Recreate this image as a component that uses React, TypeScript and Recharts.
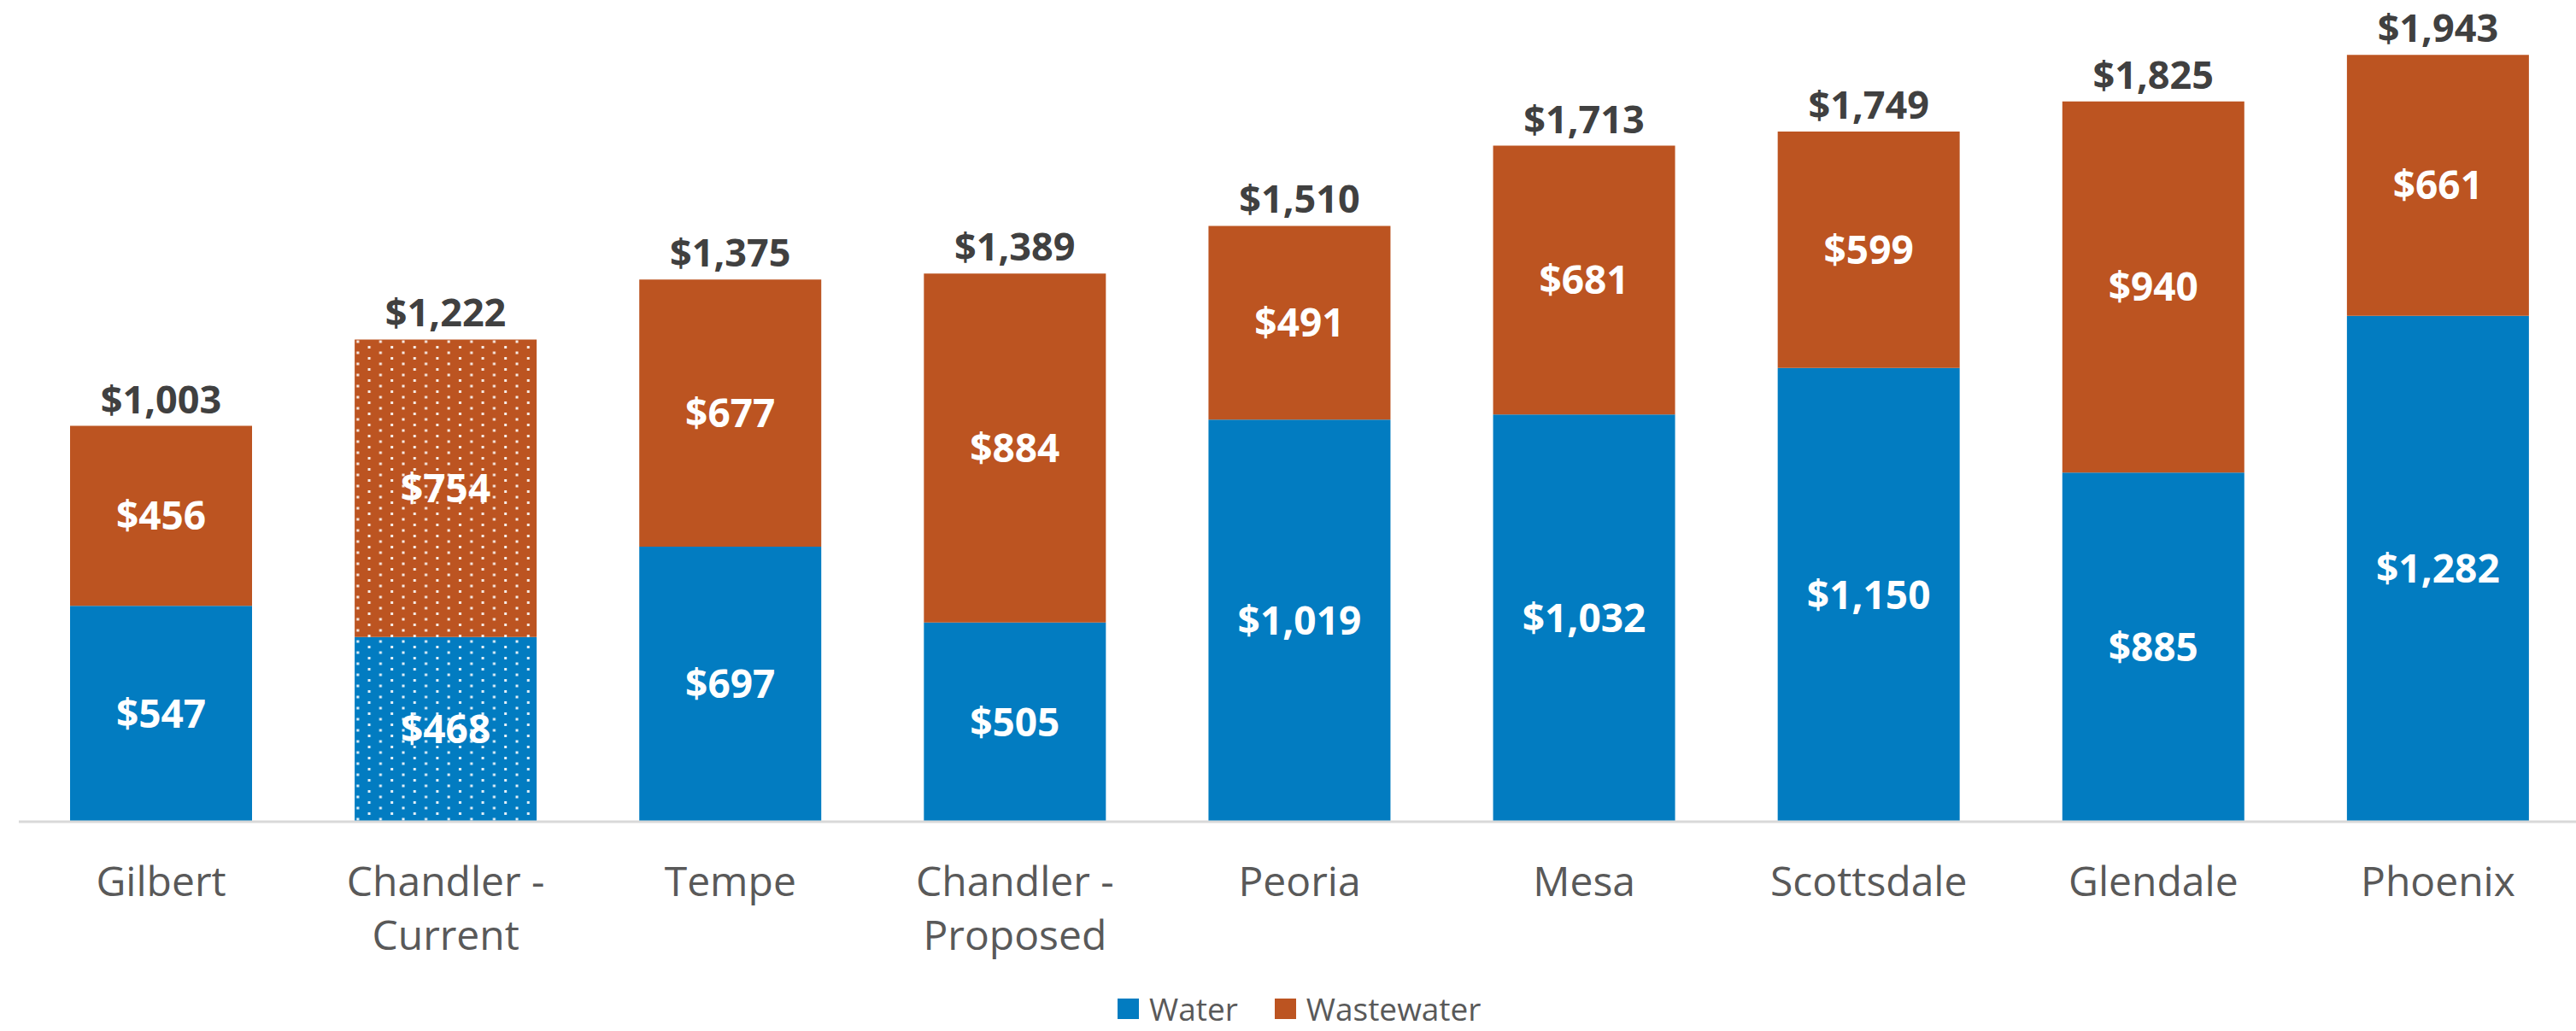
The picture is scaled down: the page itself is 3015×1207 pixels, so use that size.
import { BarChart, Bar, XAxis, YAxis, Cell, LabelList, Legend } from 'recharts'

const cities = ['Gilbert', 'Chandler - Current', 'Tempe', 'Chandler - Proposed', 'Peoria', 'Mesa', 'Scottsdale', 'Glendale', 'Phoenix']
const water = [547, 468, 697, 505, 1019, 1032, 1150, 885, 1282]
const wastewater = [456, 754, 677, 884, 491, 681, 599, 940, 661]
const totals = [1003, 1222, 1375, 1389, 1510, 1713, 1749, 1825, 1943]
// the current Chandler rates get the dotted fill
const dotted = ['Chandler - Current']
const seriesOrder = ['Water', 'Wastewater']

const BLUE = '#027CC1'
const ORANGE = '#BC5421'
const FONT = '"Open Sans", "Noto Sans", sans-serif'

const data = cities.map((city, i) => ({ city, water: water[i], wastewater: wastewater[i], total: totals[i] }))

const money = (v: number) => '$' + Number(v).toLocaleString('en-US')

function splitLabel(s: string) {
  const k = s.indexOf(' - ')
  return k < 0 ? [s] : [s.slice(0, k) + ' -', s.slice(k + 3)]
}

function CityTick({ x, y, payload }: any) {
  return (
    <g>
      {splitLabel(payload.value).map((line, i) => (
        <text key={i} x={x} y={y + 85 + i * 63} textAnchor="middle" fill="#595959" fontSize={48} fontFamily={FONT}>
          {line}
        </text>
      ))}
    </g>
  )
}

function TotalLabel(props: any) {
  const vb = props.viewBox ?? props
  return (
    <text x={vb.x + vb.width / 2} y={vb.y - 15} textAnchor="middle" fill="#404040" fontSize={45} fontWeight={700} fontFamily={FONT}>
      {money(props.value)}
    </text>
  )
}

function LegendBox({ payload }: any) {
  const items = [...(payload ?? [])].sort((a: any, b: any) => seriesOrder.indexOf(a.value) - seriesOrder.indexOf(b.value))
  return (
    <div style={{ display: 'flex', alignItems: 'center', height: 50, lineHeight: '50px', fontFamily: FONT, fontSize: 37, color: '#595959', whiteSpace: 'nowrap' }}>
      {items.map((p: any, i: number) => (
        <div key={i} style={{ display: 'flex', alignItems: 'center', marginRight: 43 }}>
          <div style={{ width: 25, height: 24, background: p.color, marginRight: 12 }} />
          <span>{p.value}</span>
        </div>
      ))}
    </div>
  )
}

export default function App() {
  return (
    <div style={{ position: 'absolute', left: 0, top: 0, width: 3015, height: 1207, overflow: 'hidden', background: '#fff' }}>
      <BarChart width={3020} height={1207} data={data} margin={{ top: 38, right: 0, left: 22, bottom: 0 }} style={{ fontFamily: FONT }}>
        <defs>
          <pattern id="dotsBlue" width="26.6" height="13" patternUnits="userSpaceOnUse">
            <rect width="26.6" height="13" fill={BLUE} />
            <rect x="5" y="2" width="3" height="3" fill="#fff" fillOpacity={0.9} />
            <rect x="18.3" y="8.5" width="3" height="3" fill="#fff" fillOpacity={0.9} />
          </pattern>
          <pattern id="dotsOrange" width="26.6" height="13" patternUnits="userSpaceOnUse">
            <rect width="26.6" height="13" fill={ORANGE} />
            <rect x="5" y="2" width="3" height="3" fill="#fff" fillOpacity={0.9} />
            <rect x="18.3" y="8.5" width="3" height="3" fill="#fff" fillOpacity={0.9} />
          </pattern>
        </defs>
        <XAxis dataKey="city" height={245} interval={0} tickSize={0} tickLine={false} axisLine={{ stroke: '#D9D9D9', strokeWidth: 3 }} tick={<CityTick />} />
        <YAxis hide domain={[0, 2000]} />
        <Legend verticalAlign="middle" align="center" wrapperStyle={{ top: 1156, left: 1308, width: 'auto' }} content={<LegendBox />} />
        <Bar dataKey="water" name="Water" stackId="a" fill={BLUE} barSize={213} legendType="square" isAnimationActive={false}>
          {data.map((d, i) => (
            <Cell key={i} fill={dotted.includes(d.city) ? 'url(#dotsBlue)' : BLUE} />
          ))}
          <LabelList dataKey="water" position="center" fill="#fff" fontSize={46} fontWeight={700} fontFamily={FONT} formatter={(v: any) => money(v)} />
        </Bar>
        <Bar dataKey="wastewater" name="Wastewater" stackId="a" fill={ORANGE} barSize={213} legendType="square" isAnimationActive={false}>
          {data.map((d, i) => (
            <Cell key={i} fill={dotted.includes(d.city) ? 'url(#dotsOrange)' : ORANGE} />
          ))}
          <LabelList dataKey="wastewater" position="center" fill="#fff" fontSize={46} fontWeight={700} fontFamily={FONT} formatter={(v: any) => money(v)} />
          <LabelList dataKey="total" content={<TotalLabel />} />
        </Bar>
      </BarChart>
    </div>
  )
}
